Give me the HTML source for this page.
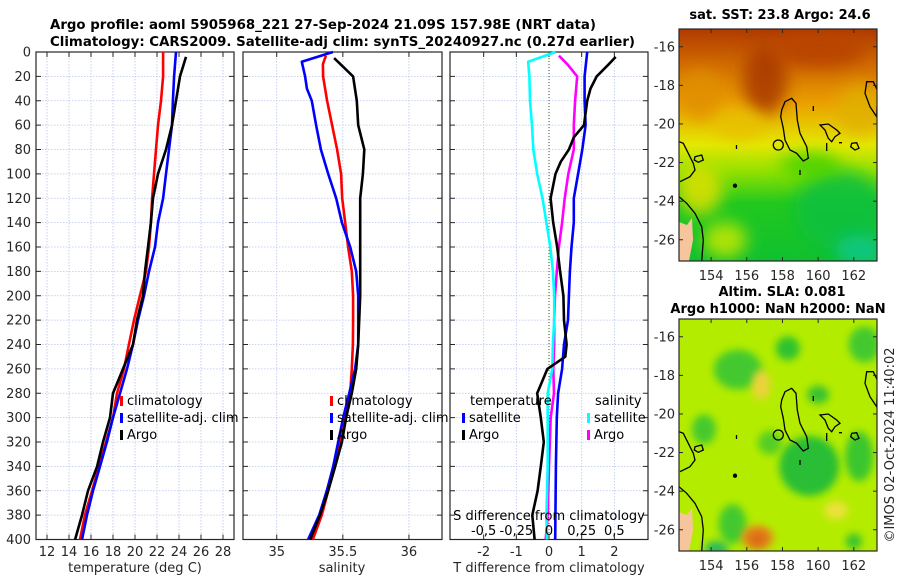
<!DOCTYPE html>
<html><head><meta charset="utf-8"><style>
html,body{margin:0;padding:0;background:#fff;}
svg{display:block;font-family:"DejaVu Sans","Liberation Sans",sans-serif;}
.t{font-size:13px;fill:#262626;}
.b{font-size:13px;font-weight:bold;fill:#000;}
</style></head><body>
<svg id="fig" width="900" height="580" viewBox="0 0 900 580" xmlns="http://www.w3.org/2000/svg">
<defs>
 <filter id="bl" x="-50%" y="-50%" width="200%" height="200%"><feGaussianBlur stdDeviation="8"/></filter>
 <filter id="bl2" x="-50%" y="-50%" width="200%" height="200%"><feGaussianBlur stdDeviation="4"/></filter>
 <clipPath id="cm1"><rect x="679" y="29" width="198" height="232"/></clipPath>
 <clipPath id="cm2"><rect x="679" y="319" width="198" height="232"/></clipPath>
 <linearGradient id="sstg" x1="0" y1="0" x2="0" y2="1">
  <stop offset="0" stop-color="#b03a00"/><stop offset="0.15" stop-color="#d06a00"/>
  <stop offset="0.32" stop-color="#eaa000"/><stop offset="0.5" stop-color="#e4e800"/>
  <stop offset="0.62" stop-color="#8ee000"/><stop offset="0.75" stop-color="#22c81e"/>
  <stop offset="1" stop-color="#10c030"/>
 </linearGradient>
 <g id="coast" fill="none" stroke="#000" stroke-width="1.3">
  <path d="M781.7,110 L785,101.7 791.7,98.3 796,103.3 797.3,120 800,133.3 806.7,146.7 808.3,158.3 803.3,161 796.7,153.3 790,150 785,140 783.3,128.3 780.7,116.7Z"/>
  <circle cx="778.3" cy="145" r="5"/>
  <path d="M820,125 L828.3,124 836.7,130 840,133.3 835,136.7 831.7,141.7 828.3,138.3 825,130Z"/>
  <path d="M851.7,143.3 L856.7,142.7 859,148.3 855,150 850.7,146.7Z"/>
  <path d="M866.7,81.7 L873.3,81.7 877.3,90 877.3,100 876.7,116.7 870,106.7 865,93.3Z"/>
  <path d="M695,156.7 L701.7,155 703.3,160 698.3,162.3 694.3,160Z"/>
  <path d="M679,141.7 L683.3,143.3 688.3,153.3 693.3,163.3 695,170 690,176.7 680,181.7"/>
  <path d="M679,196.7 L686.7,203.3 695,213.3 701.7,226.7 703.3,240 701.7,261"/>
  <path d="M736.5,145 v4 M813.3,106 v5 M800,170 v5 M826.7,143 v8 M839,142.7 h3"/>
  <circle cx="735" cy="185.7" r="1.5" fill="#000"/>
 </g>
</defs>
<g id="root"></g>
</svg>
<script>
// ---------- data ----------
const depthTicks=[0,20,40,60,80,100,120,140,160,180,200,220,240,260,280,300,320,340,360,380,400];
const climDepth=[0,20,40,60,80,100,120,140,160,180,200,220,240,260,280,300,320,340,360,380,400];
const climTemp=[22.55,22.55,22.36,22.09,21.91,21.73,21.55,21.45,21.27,21.0,20.45,19.91,19.45,19.0,18.36,18.0,17.36,16.73,16.09,15.45,15.0];
const satTemp=[23.73,23.55,23.45,23.36,23.09,22.82,22.55,22.09,21.82,21.27,20.82,20.27,19.82,19.27,18.64,18.0,17.45,16.82,16.18,15.64,15.18];
const argoTDepth=[4,20,40,60,80,100,120,140,160,180,200,220,240,260,280,300,320,340,360,380,400];
const argoTemp=[24.64,24.09,23.73,23.36,22.82,22.09,21.64,21.45,21.18,20.91,20.73,20.18,19.82,18.91,18.0,17.73,17.09,16.55,15.73,15.18,14.55];
const climSDepth=[3,10,20,40,60,80,100,120,140,160,180,200,220,240,260,280,300,320,340,360,380,400];
const climSal=[35.372,35.349,35.351,35.381,35.419,35.457,35.487,35.495,35.518,35.54,35.568,35.578,35.578,35.576,35.568,35.556,35.518,35.48,35.434,35.389,35.341,35.273];
const satSDepth=[0,8,20,30,40,60,80,100,120,140,160,180,200,220,240,260,280,300,320,340,360,380,400];
const satSal=[35.425,35.19,35.215,35.228,35.265,35.298,35.334,35.389,35.45,35.493,35.556,35.601,35.616,35.616,35.616,35.593,35.548,35.503,35.465,35.427,35.379,35.321,35.237];
const argoSDepth=[5,20,40,60,80,100,120,140,160,180,200,220,240,260,280,300,320,340,360,380,400];
const argoSal=[35.434,35.578,35.606,35.616,35.662,35.652,35.631,35.631,35.631,35.631,35.631,35.624,35.616,35.601,35.568,35.525,35.493,35.442,35.389,35.328,35.253];
const dSatTDepth=[0,20,40,60,80,100,120,140,160,180,200,220,240,260,280,300,340,400];
const dSatT=[1.17,1.09,1.09,1.12,1.02,0.89,0.76,0.76,0.69,0.64,0.61,0.58,0.46,0.4,0.28,0.24,0.21,0.19];
const dArgoTDepth=[4,10,20,30,40,60,70,80,90,100,120,140,160,180,200,220,240,250,260,280,300,320,340,360,380,400];
const dArgoT=[2.04,1.83,1.46,1.27,1.17,1.07,0.76,0.61,0.36,0.2,0.05,0.13,0.25,0.34,0.44,0.46,0.54,0.5,-0.05,-0.36,-0.25,-0.16,-0.25,-0.35,-0.51,-0.44];
const dSatSDepth=[0,8,20,40,60,80,100,120,140,160,180,200,220,240,260,280,300,340,380,400];
const dSatS=[0.05,-0.16,-0.15,-0.145,-0.13,-0.12,-0.09,-0.05,-0.02,0.01,0.03,0.04,0.04,0.03,0.025,-0.01,-0.01,-0.01,-0.02,-0.015];
const dArgoSDepth=[3,10,20,40,60,80,100,120,140,160,180,200,220,240,260,280,300,340,380,400];
const dArgoS=[0.076,0.14,0.216,0.2,0.19,0.19,0.148,0.12,0.1,0.076,0.06,0.046,0.04,0.04,0.033,0.038,0.013,0.0,-0.01,-0.025];
const tempTicks=[12,14,16,18,20,22,24,26,28];
const salTicks=[35,35.5,36];
const salTickLabels=["35","35.5","36"];
const diffTTicks=[-2,-1,0,1,2];
const diffSTicks=[-0.5,-0.25,0,0.25,0.5];
const diffSLabels=["-0,5","-0,25","0","0,25","0,5"];
const lonTicks=[154,156,158,160,162];
const latTicks=[-16,-18,-20,-22,-24,-26];

// ---------- helpers ----------
const NS="http://www.w3.org/2000/svg";
const root=document.getElementById('root');
function el(tag,attrs,parent,text){const e=document.createElementNS(NS,tag);for(const k in attrs)e.setAttribute(k,attrs[k]);if(text!==undefined)e.textContent=text;(parent||root).appendChild(e);return e;}
const TOP=52,BOT=539.5;
const yD=d=>TOP+(d/400)*(BOT-TOP);
function lin(d0,d1,r0,r1){return v=>r0+(v-d0)/(d1-d0)*(r1-r0);}

function panel(name,x0,x1,xf,xgrid){
  const g=el('g',{});
  
  
  depthTicks.forEach(d=>{if(d>0&&d<400){const l=el('line',{x1:x0,x2:x1,y1:yD(d),y2:yD(d),stroke:'#b8c4ec','stroke-width':0.8,'stroke-dasharray':'1.5,1.5'},g);}});
  xgrid.forEach(v=>{const x=xf(v);const l=el('line',{x1:x,x2:x,y1:TOP,y2:BOT,stroke:'#b8c4ec','stroke-width':0.8,'stroke-dasharray':'1.5,1.5'},g);});
  depthTicks.forEach(d=>{el('line',{x1:x0,x2:x0+5,y1:yD(d),y2:yD(d),stroke:'#262626'},g);el('line',{x1:x1-5,x2:x1,y1:yD(d),y2:yD(d),stroke:'#262626'},g);});
  xgrid.forEach(v=>{const x=xf(v);el('line',{x1:x,x2:x,y1:BOT,y2:BOT-5,stroke:'#262626'},g);el('line',{x1:x,x2:x,y1:TOP,y2:TOP+5,stroke:'#262626'},g);});
  const fr=el('rect',{x:x0,y:TOP,width:x1-x0,height:BOT-TOP,fill:'none',stroke:'#262626','stroke-width':1.2},g);
  
  
  return g;
}
function line(g,name,xs,ds,xf,color,w){
  const pts=xs.map((v,i)=>xf(v).toFixed(1)+','+yD(ds[i]).toFixed(1)).join(' ');
  const p=el('polyline',{points:pts,fill:'none',stroke:color,'stroke-width':w||2.6,'stroke-linejoin':'round'},g);
  
  
}
function legendItem(g,name,x,y,color,label){
  const r=el('rect',{x:x,y:y-9,width:3,height:10,fill:color},g);
  
  
  const t=el('text',{x:x+7,y:y,'class':'t',style:'fill:#000'},g,label);
  
  
}

// ---------- panel 1 : temperature ----------
const xT=lin(11,29,36,234);
const p1=panel('temperature-panel',36,234,xT,tempTicks);
line(p1,'climatology-temp-line',climTemp,climDepth,xT,'#ff0000');
line(p1,'satellite-temp-line',satTemp,climDepth,xT,'#0000ff');
line(p1,'argo-temp-line',argoTemp,argoTDepth,xT,'#000000');
depthTicks.forEach(d=>{const t=el('text',{x:31,y:yD(d)+4.5,'text-anchor':'end','class':'t'},p1,String(d));});
tempTicks.forEach(v=>{const t=el('text',{x:xT(v),y:556,'text-anchor':'middle','class':'t'},p1,String(v));});
{const t=el('text',{x:135,y:572,'text-anchor':'middle','class':'t'},p1,'temperature (deg C)');}
legendItem(p1,'legend-climatology',120,405,'#ff0000','climatology');
legendItem(p1,'legend-satellite-adj-clim',120,422,'#0000ff','satellite-adj. clim');
legendItem(p1,'legend-argo',120,439,'#000000','Argo');

// ---------- panel 2 : salinity ----------
const xS=lin(34.745,36.25,243,442);
const p2=panel('salinity-panel',243,442,xS,salTicks);
line(p2,'climatology-sal-line',climSal,climSDepth,xS,'#ff0000');
line(p2,'satellite-sal-line',satSal,satSDepth,xS,'#0000ff');
line(p2,'argo-sal-line',argoSal,argoSDepth,xS,'#000000');
salTicks.forEach((v,i)=>{const t=el('text',{x:xS(v),y:556,'text-anchor':'middle','class':'t'},p2,salTickLabels[i]);});
{const t=el('text',{x:342,y:572,'text-anchor':'middle','class':'t'},p2,'salinity');}
legendItem(p2,'legend-climatology-2',330,405,'#ff0000','climatology');
legendItem(p2,'legend-satellite-adj-clim-2',330,422,'#0000ff','satellite-adj. clim');
legendItem(p2,'legend-argo-2',330,439,'#000000','Argo');

// ---------- panel 3 : differences ----------
const xDT=lin(-3.03,3.03,450,648);
const xDS=v=>xDT(v*4);
const p3=panel('difference-panel',450,648,xDT,diffTTicks);
{const l=el('line',{x1:xDT(0),x2:xDT(0),y1:TOP,y2:BOT,stroke:'#3a5a1a','stroke-width':1,'stroke-dasharray':'1,2'},p3);}
line(p3,'argo-s-diff-line',dArgoS,dArgoSDepth,xDS,'#ff00ff');
line(p3,'satellite-s-diff-line',dSatS,dSatSDepth,xDS,'#00ffff');
line(p3,'satellite-t-diff-line',dSatT,dSatTDepth,xDT,'#0000ff');
line(p3,'argo-t-diff-line',dArgoT,dArgoTDepth,xDT,'#000000');
diffTTicks.forEach(v=>{const t=el('text',{x:xDT(v),y:556,'text-anchor':'middle','class':'t'},p3,String(v));});
{const t=el('text',{x:549,y:572,'text-anchor':'middle','class':'t'},p3,'T difference from climatology');}
{const t=el('text',{x:549,y:520,'text-anchor':'middle','class':'t',style:'fill:#000'},p3,'S difference from climatology');}
diffSTicks.forEach((v,i)=>{const t=el('text',{x:xDS(v),y:535,'text-anchor':'middle','class':'t',style:'fill:#000'},p3,diffSLabels[i]);});
{const t=el('text',{x:470,y:405,'class':'t',style:'fill:#000'},p3,'temperature');}
{const t=el('text',{x:595,y:405,'class':'t',style:'fill:#000'},p3,'salinity');}
legendItem(p3,'legend-t-satellite',462,422,'#0000ff','satellite');
legendItem(p3,'legend-t-argo',462,439,'#000000','Argo');
legendItem(p3,'legend-s-satellite',587,422,'#00ffff','satellite');
legendItem(p3,'legend-s-argo',587,439,'#ff00ff','Argo');

// ---------- titles ----------
{const t=el('text',{x:50,y:29,'class':'b',textLength:546,lengthAdjust:'spacingAndGlyphs'},root,'Argo profile: aoml 5905968_221 27-Sep-2024 21.09S 157.98E (NRT data)');}
{const t=el('text',{x:50,y:46,'class':'b',textLength:585,lengthAdjust:'spacingAndGlyphs'},root,'Climatology: CARS2009. Satellite-adj clim: synTS_20240927.nc (0.27d earlier)');}

// ---------- maps ----------
const lonX=lin(152.2,163.3,679,877);
function mapAxes(g,yOff){
  const latY=lin(-15.08,-27.1,29+yOff,261+yOff);
  lonTicks.forEach(v=>{const x=lonX(v);el('line',{x1:x,x2:x,y1:261+yOff,y2:257+yOff,stroke:'#262626'},g);el('line',{x1:x,x2:x,y1:29+yOff,y2:33+yOff,stroke:'#262626'},g);
    const t=el('text',{x:x,y:280+yOff,'text-anchor':'middle','class':'t'},g,String(v));});
  latTicks.forEach(v=>{const y=latY(v);el('line',{x1:679,x2:683,y1:y,y2:y,stroke:'#262626'},g);el('line',{x1:877,x2:873,y1:y,y2:y,stroke:'#262626'},g);
    const t=el('text',{x:675,y:y+4.5,'text-anchor':'end','class':'t'},g,String(v));});
  el('rect',{x:679,y:29+yOff,width:198,height:232,fill:'none',stroke:'#262626','stroke-width':1.2},g);
}
// SST map
const m1=el('g',{});


const f1=el('g',{'clip-path':'url(#cm1)'},m1);
el('rect',{x:679,y:29,width:198,height:232,fill:'url(#sstg)'},f1);
const sstBlobs=[[765,80,22,35,'#a83800'],[820,50,45,18,'#b84200'],[700,95,22,25,'#e09000'],[860,110,22,25,'#e0b000'],[700,190,22,25,'#e0e000'],[725,240,22,18,'#c8e800'],[840,210,45,40,'#10c040'],[860,250,25,15,'#10c890'],[810,165,30,12,'#40d000'],[740,125,25,15,'#e8c000']];
sstBlobs.forEach(b=>el('ellipse',{cx:b[0],cy:b[1],rx:b[2],ry:b[3],fill:b[4],filter:'url(#bl)',opacity:0.85},f1));
el('polygon',{points:'679,222 687,225 692,218 693,240 689,261 679,261',fill:'#f7c59b'},f1);
el('use',{href:'#coast'},f1);
mapAxes(m1,0);
{const t=el('text',{x:780,y:19,'text-anchor':'middle','class':'b'},m1,'sat. SST: 23.8 Argo: 24.6');}
// SLA map
const m2=el('g',{});


const f2=el('g',{'clip-path':'url(#cm2)'},m2);
el('rect',{x:679,y:319,width:198,height:232,fill:'#b4ec00'},f2);
const latY2=lin(-15.08,-27.1,319,551);
// blobs given as [lon, lat, rx, ry, colour]
const slaBlobs=[[155.5,-17.7,24,20,'#3cc830'],[158.3,-16.6,12,12,'#28c030'],[153.6,-20.8,12,15,'#40c830'],[160,-19,11,9,'#30c030'],[159.5,-22.7,30,30,'#22bc38'],[162.3,-22.2,14,25,'#34c430'],[155.2,-25.7,14,20,'#3cc830'],[162.6,-16.4,16,18,'#3cc830'],[157.3,-21.5,12,12,'#50cc28'],[154.3,-27,12,8,'#20b860'],[162,-26.6,8,8,'#30c030'],[156.8,-18.5,9,15,'#f0d040'],[161,-25,12,9,'#f0e040'],[156.6,-26.4,16,12,'#e88020'],[156.6,-26.5,8,7,'#d86a10']];
slaBlobs.forEach(b=>el('ellipse',{cx:lonX(b[0]),cy:latY2(b[1]),rx:b[2],ry:b[3],fill:b[4],filter:'url(#bl2)',opacity:0.95},f2));
el('polygon',{points:'679,512 687,515 692,508 693,530 689,551 679,551',fill:'#f7c59b'},f2);
el('use',{href:'#coast',transform:'translate(0,290)'},f2);
mapAxes(m2,290);
{const t=el('text',{x:782,y:296,'text-anchor':'middle','class':'b'},m2,'Altim. SLA: 0.081');}
{const t=el('text',{x:778,y:313,'text-anchor':'middle','class':'b'},m2,'Argo h1000: NaN h2000: NaN');}
{const t=el('text',{x:894,y:445,'text-anchor':'middle','class':'t',transform:'rotate(-90 894 445)'},root,'©IMOS 02-Oct-2024 11:40:02');}
</script>
</body></html>
